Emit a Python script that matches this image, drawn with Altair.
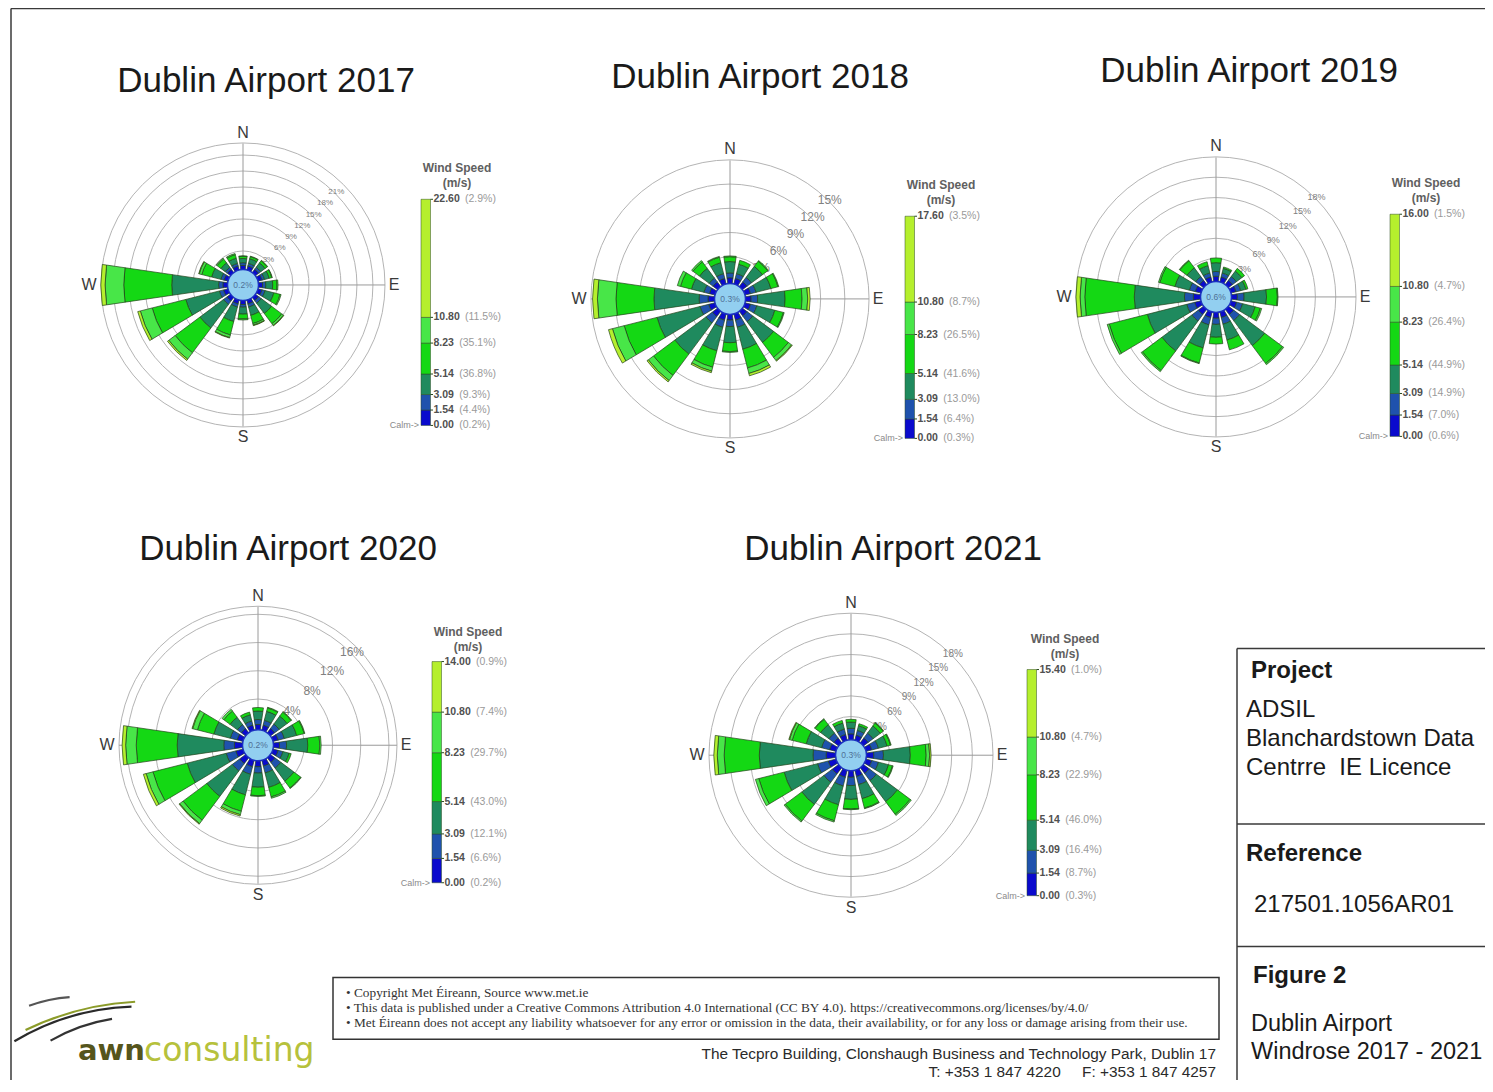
import math
import altair as alt
import pandas as pd

# ----------------------------------------------------------------- data
DIRECTIONS = ["N", "NNE", "NE", "ENE", "E", "ESE", "SE", "SSE",
              "S", "SSW", "SW", "WSW", "W", "WNW", "NW", "NNW"]
SPEED_BINS = ["0.00-1.54", "1.54-3.09", "3.09-5.14", "5.14-8.23", "8.23-10.80", ">10.80"]
BIN_COLORS = ["#0a0acd", "#1f52ad", "#1f8a5e", "#14d814", "#48e648", "#b5ef2d"]
YEARS = [2017, 2018, 2019, 2020, 2021]

# frequency (% of hours) per direction (rows, N first, clockwise) and speed bin (columns)
FREQ_2017 = [
    [0.3, 0.5, 0.8, 0.4, 0.1, 0.0], [0.3, 0.5, 0.9, 0.4, 0.1, 0.0],
    [0.3, 0.5, 1.0, 0.5, 0.1, 0.0], [0.3, 0.5, 0.9, 0.5, 0.1, 0.0],
    [0.3, 0.6, 1.3, 0.8, 0.2, 0.0], [0.3, 0.6, 1.7, 1.2, 0.2, 0.0],
    [0.3, 0.6, 2.4, 2.4, 0.4, 0.1], [0.3, 0.6, 1.6, 1.6, 0.3, 0.1],
    [0.3, 0.5, 1.3, 0.9, 0.2, 0.0], [0.3, 0.6, 2.8, 2.6, 0.5, 0.1],
    [0.4, 0.8, 5.5, 5.8, 1.5, 0.3], [0.4, 0.8, 6.5, 6.5, 2.3, 0.5],
    [0.4, 0.8, 8.8, 9.0, 3.5, 0.8], [0.3, 0.6, 1.8, 1.9, 0.5, 0.1],
    [0.3, 0.5, 1.0, 0.9, 0.2, 0.0], [0.3, 0.5, 1.0, 0.7, 0.2, 0.0],
]
FREQ_2018 = [
    [0.4, 0.6, 1.4, 0.6, 0.1, 0.0], [0.4, 0.6, 1.2, 0.5, 0.0, 0.0],
    [0.4, 0.7, 1.7, 0.8, 0.1, 0.0], [0.4, 0.7, 1.9, 0.9, 0.1, 0.0],
    [0.4, 0.8, 3.4, 2.1, 0.7, 0.3], [0.4, 0.8, 2.3, 1.1, 0.1, 0.0],
    [0.4, 0.9, 3.2, 2.3, 0.5, 0.1], [0.5, 0.9, 2.8, 2.4, 0.7, 0.3],
    [0.4, 0.8, 2.0, 1.1, 0.1, 0.0], [0.5, 0.9, 3.0, 2.1, 0.5, 0.2],
    [0.5, 1.0, 4.8, 3.3, 0.8, 0.2], [0.5, 1.1, 5.5, 4.2, 1.5, 0.5],
    [0.5, 1.1, 5.6, 4.7, 2.3, 0.6], [0.4, 0.7, 1.6, 1.4, 0.4, 0.0],
    [0.4, 0.6, 1.5, 1.0, 0.2, 0.0], [0.4, 0.6, 1.4, 0.7, 0.1, 0.0],
]
FREQ_2019 = [
    [0.4, 0.7, 1.3, 0.7, 0.0, 0.0], [0.4, 0.6, 0.7, 0.2, 0.0, 0.0],
    [0.4, 0.7, 1.0, 0.5, 0.0, 0.0], [0.4, 0.7, 0.8, 0.3, 0.0, 0.0],
    [0.5, 1.0, 3.3, 1.6, 0.1, 0.0], [0.5, 0.9, 1.9, 0.8, 0.2, 0.0],
    [0.6, 1.1, 4.6, 3.3, 0.2, 0.0], [0.5, 1.0, 2.4, 1.5, 0.0, 0.0],
    [0.5, 0.9, 1.9, 1.0, 0.0, 0.0], [0.5, 1.1, 3.5, 2.3, 0.1, 0.0],
    [0.6, 1.2, 5.5, 3.6, 0.2, 0.0], [0.6, 1.2, 6.0, 5.8, 0.3, 0.0],
    [0.7, 1.3, 7.4, 7.3, 0.7, 0.6], [0.5, 0.9, 2.2, 2.3, 0.2, 0.0],
    [0.4, 0.7, 1.6, 1.3, 0.1, 0.0], [0.4, 0.6, 1.1, 0.6, 0.0, 0.0],
]
FREQ_2020 = [
    [0.4, 0.7, 1.2, 0.5, 0.0, 0.0], [0.4, 0.7, 1.3, 0.5, 0.1, 0.0],
    [0.4, 0.8, 1.4, 0.7, 0.1, 0.0], [0.4, 0.9, 1.8, 1.1, 0.1, 0.0],
    [0.5, 1.0, 3.0, 1.7, 0.2, 0.0], [0.4, 0.7, 0.9, 0.3, 0.0, 0.0],
    [0.5, 1.0, 2.3, 1.2, 0.1, 0.0], [0.5, 1.0, 2.1, 1.4, 0.2, 0.0],
    [0.5, 0.9, 2.0, 1.2, 0.1, 0.0], [0.6, 1.1, 3.0, 2.4, 0.5, 0.2],
    [0.7, 1.3, 4.5, 4.2, 0.6, 0.1], [0.7, 1.4, 5.7, 5.0, 1.0, 0.4],
    [0.8, 1.5, 6.6, 5.8, 1.5, 0.5], [0.5, 1.0, 2.4, 2.4, 0.7, 0.1],
    [0.4, 0.7, 1.3, 1.1, 0.3, 0.0], [0.4, 0.6, 0.9, 0.4, 0.0, 0.0],
]
FREQ_2021 = [
    [0.5, 0.8, 0.9, 0.4, 0.0, 0.0], [0.4, 0.7, 0.7, 0.3, 0.0, 0.0],
    [0.5, 0.9, 1.3, 0.5, 0.1, 0.0], [0.5, 1.0, 1.3, 0.5, 0.1, 0.0],
    [0.7, 1.4, 3.9, 2.3, 0.5, 0.2], [0.5, 1.0, 1.5, 0.6, 0.1, 0.0],
    [0.7, 1.3, 3.8, 2.3, 0.2, 0.0], [0.6, 1.2, 2.1, 1.4, 0.1, 0.0],
    [0.6, 1.2, 2.0, 1.4, 0.1, 0.0], [0.7, 1.3, 2.8, 2.4, 0.2, 0.0],
    [0.8, 1.5, 4.0, 3.0, 0.2, 0.0], [0.8, 1.6, 5.0, 3.8, 0.5, 0.0],
    [1.0, 1.9, 7.8, 5.1, 1.0, 0.5], [0.6, 1.2, 2.3, 2.1, 0.4, 0.1],
    [0.5, 0.9, 1.5, 1.0, 0.1, 0.0], [0.5, 0.8, 0.9, 0.4, 0.0, 0.0],
]
FREQ = dict(zip(YEARS, [FREQ_2017, FREQ_2018, FREQ_2019, FREQ_2020, FREQ_2021]))

CALM_PCT = [0.2, 0.3, 0.6, 0.2, 0.3]
RING_STEP = [3, 3, 3, 4, 3]
RING_MAX = [21, 15, 18, 16, 18]

SPEED_EDGES = [0.00, 1.54, 3.09, 5.14, 8.23, 10.80]
SPEED_TOP = [22.60, 17.60, 16.00, 14.00, 15.40]
# legend percentages at 0.00 (calm), 1.54, 3.09, 5.14, 8.23, 10.80, top
LEGEND_PCT_2017 = [0.2, 4.4, 9.3, 36.8, 35.1, 11.5, 2.9]
LEGEND_PCT_2018 = [0.3, 6.4, 13.0, 41.6, 26.5, 8.7, 3.5]
LEGEND_PCT_2019 = [0.6, 7.0, 14.9, 44.9, 26.4, 4.7, 1.5]
LEGEND_PCT_2020 = [0.2, 6.6, 12.1, 43.0, 29.7, 7.4, 0.9]
LEGEND_PCT_2021 = [0.3, 8.7, 16.4, 46.0, 22.9, 4.7, 1.0]
LEGEND_PCT = dict(zip(YEARS, [LEGEND_PCT_2017, LEGEND_PCT_2018, LEGEND_PCT_2019,
                              LEGEND_PCT_2020, LEGEND_PCT_2021]))

COMPASS = ["N", "E", "S", "W"]
PANEL_HEADINGS = ["Project", "Reference", "Figure 2"]
PANEL_LINES = ["ADSIL", "Blanchardstown Data", "Centrre\u00a0\u00a0IE Licence",
               "217501.1056AR01", "Dublin Airport", "Windrose 2017 - 2021"]
NOTES = [
    "\u2022  Copyright Met \u00c9ireann, Source www.met.ie",
    "\u2022  This data is published under a Creative Commons Attribution 4.0 International (CC BY 4.0). https://creativecommons.org/licenses/by/4.0/",
    "\u2022  Met \u00c9ireann does not accept any liability whatsoever for any error or omission in the data, their availability, or for any loss or damage arising from their use.",
]
ADDRESS = ["The Tecpro Building, Clonshaugh Business and Technology Park, Dublin 17",
           "T: +353 1 847 4220\u00a0\u00a0\u00a0\u00a0\u00a0F: +353 1 847 4257"]

# ----------------------------------------------------------------- layout (page pixels)
W, H = 1477, 1072
XS = alt.Scale(domain=[8, 8 + W], range=[0, W], nice=False, zero=False)
YS = alt.Scale(domain=[8, 1084], range=[0, H], nice=False, zero=False)
TS = alt.Scale(domain=[0, 360], range=[0, 2 * math.pi], nice=False, zero=False)
R0 = 18.0
CALM_R = 15.5
HALF = 8.3
ROSE = {
    2017: dict(cx=243, cy=286, k=5.33, outer=142, extra=True, rf=8),
    2018: dict(cx=730, cy=300, k=8.07, outer=139, extra=False, rf=12),
    2019: dict(cx=1216, cy=298, k=6.78, outer=140, extra=False, rf=9),
    2020: dict(cx=258, cy=748, k=7.06, outer=139, extra=True, rf=12),
    2021: dict(cx=851, cy=758, k=6.89, outer=142, extra=False, rf=10),
}
TITLE_POS = {2017: (266, 81), 2018: (760, 77), 2019: (1249, 71), 2020: (288, 551), 2021: (893, 551)}
LEG = {
    2017: dict(x=421, top=200, bot=427, tx=457, ty=169),
    2018: dict(x=905, top=217, bot=440, tx=941, ty=186),
    2019: dict(x=1390, top=215, bot=438, tx=1426, ty=184),
    2020: dict(x=432, top=664, bot=886, tx=468, ty=634),
    2021: dict(x=1027, top=672, bot=899, tx=1065, ty=641),
}


def X(f="x"):
    return alt.X(f"{f}:Q", scale=XS, axis=None)


def Y(f="y"):
    return alt.Y(f"{f}:Q", scale=YS, axis=None)


def text_layer(df, **kw):
    enc = dict(x=X(), y=Y(), text=alt.Text("text:N"))
    if "fs" in df.columns:
        enc["size"] = alt.Size("fs:Q", scale=None, legend=None)
    return alt.Chart(df).mark_text(**kw).encode(**enc)


def rule_layer(df, **kw):
    return alt.Chart(df).mark_rule(**kw).encode(x=X("x"), y=Y("y"), x2=alt.X2("x2:Q"), y2=alt.Y2("y2:Q"))


# ----------------------------------------------------------------- tables
seg_rows, ring_rows, ringlab_rows, spoke_rows, calm_rows = [], [], [], [], []
title_rows, comp_rows = [], []
for yi, yr in enumerate(YEARS):
    L = ROSE[yr]
    for d, row in enumerate(FREQ[yr]):
        cum = 0.0
        for b, v in enumerate(row):
            lo, hi = cum, cum + v
            cum = hi
            if v > 0:
                seg_rows.append(dict(year=yr, d=d, dir=DIRECTIONS[d], bin=SPEED_BINS[b], lo=lo, hi=hi,
                                     cx=L["cx"], cy=L["cy"], k=L["k"]))
    p = RING_STEP[yi]
    while p <= RING_MAX[yi] + 1e-9:
        r = R0 + L["k"] * p
        ring_rows.append(dict(cx=L["cx"], cy=L["cy"], r=r, a0=0, a1=360))
        ringlab_rows.append(dict(x=L["cx"] + (r + 2) * math.sin(math.radians(45)),
                                 y=L["cy"] - (r + 2) * math.cos(math.radians(45)),
                                 text=f"{p}%", fs=L["rf"]))
        p += RING_STEP[yi]
    if L["extra"]:
        ring_rows.append(dict(cx=L["cx"], cy=L["cy"], r=L["outer"], a0=0, a1=360))
    o = L["outer"]
    spoke_rows.append(dict(x=L["cx"], y=L["cy"] - o, x2=L["cx"], y2=L["cy"] + o))
    spoke_rows.append(dict(x=L["cx"] - o, y=L["cy"], x2=L["cx"] + o, y2=L["cy"]))
    calm_rows.append(dict(cx=L["cx"], cy=L["cy"], r=CALM_R, a0=0, a1=360,
                          x=L["cx"], y=L["cy"], text=f"{CALM_PCT[yi]}%"))
    tx, ty = TITLE_POS[yr]
    title_rows.append(dict(x=tx, y=ty, text=f"Dublin Airport {yr}"))
    offs = {"N": (0, -(o + 11)), "E": (o + 9, 0), "S": (0, o + 11), "W": (-(o + 12), 0)}
    for c in COMPASS:
        comp_rows.append(dict(x=L["cx"] + offs[c][0], y=L["cy"] + offs[c][1], text=c))

seg_df = pd.DataFrame(seg_rows)
ring_df = pd.DataFrame(ring_rows)
ringlab_df = pd.DataFrame(ringlab_rows)
spoke_df = pd.DataFrame(spoke_rows)
calm_df = pd.DataFrame(calm_rows)
title_df = pd.DataFrame(title_rows)
comp_df = pd.DataFrame(comp_rows)

# legend tables
legbar_rows, legnum_rows, legpct_rows, legtick_rows, legtitle_rows, calmlab_rows = [], [], [], [], [], []
for yi, yr in enumerate(YEARS):
    G = LEG[yr]
    edges = SPEED_EDGES + [SPEED_TOP[yi]]
    for b in range(len(SPEED_BINS)):
        legbar_rows.append(dict(bin=SPEED_BINS[b], lo=edges[b], hi=edges[b + 1], smax=SPEED_TOP[yi],
                                x=G["x"], x2=G["x"] + 9.5, top=G["top"], bot=G["bot"]))
    for j, s in enumerate(edges):
        num = f"{s:.2f}"
        legnum_rows.append(dict(s=s, smax=SPEED_TOP[yi], top=G["top"], bot=G["bot"],
                                x=G["x"] + 12.5, text=num))
        legpct_rows.append(dict(s=s, smax=SPEED_TOP[yi], top=G["top"], bot=G["bot"],
                                x=G["x"] + 12.5 + len(num) * 5.8 + 2.5, text=f"({LEGEND_PCT[yr][j]}%)"))
        legtick_rows.append(dict(s=s, smax=SPEED_TOP[yi], top=G["top"], bot=G["bot"],
                                 x=G["x"] + 9.5, x2=G["x"] + 12))
    legtitle_rows.append(dict(x=G["tx"], y=G["ty"], text="Wind Speed"))
    legtitle_rows.append(dict(x=G["tx"], y=G["ty"] + 15, text="(m/s)"))
    calmlab_rows.append(dict(x=G["x"] - 2, y=G["bot"], text="Calm->"))

legbar_df = pd.DataFrame(legbar_rows)
legnum_df = pd.DataFrame(legnum_rows)
legpct_df = pd.DataFrame(legpct_rows)
legtick_df = pd.DataFrame(legtick_rows)
legtitle_df = pd.DataFrame(legtitle_rows)
calmlab_df = pd.DataFrame(calmlab_rows)

color_enc = alt.Color("bin:N", scale=alt.Scale(domain=SPEED_BINS, range=BIN_COLORS), legend=None)

# ----------------------------------------------------------------- layers
layers = []

# rings
layers.append(alt.Chart(ring_df).mark_arc(fillOpacity=0, stroke="#b4b4b4", strokeWidth=1).encode(
    x=X("cx"), y=Y("cy"),
    theta=alt.Theta("a0:Q", scale=TS, stack=False), theta2=alt.Theta2("a1:Q"),
    radius=alt.Radius("r:Q", scale=None, stack=False),
))
# spokes
layers.append(rule_layer(spoke_df, color="#9a9a9a", strokeWidth=1))
# ring labels
layers.append(text_layer(ringlab_df, font="Liberation Sans", color="#808080", align="center", baseline="middle"))
# wedges
layers.append(alt.Chart(seg_df).mark_arc(stroke="#22441a", strokeWidth=0.7).transform_calculate(
    t1=f"datum.d * 22.5 - {HALF}",
    t2=f"datum.d * 22.5 + {HALF}",
    rin=f"datum.lo == 0 ? {CALM_R} : {R0} + datum.k * datum.lo",
    rout=f"{R0} + datum.k * datum.hi",
).encode(
    x=X("cx"), y=Y("cy"),
    theta=alt.Theta("t1:Q", scale=TS, stack=False), theta2=alt.Theta2("t2:Q"),
    radius=alt.Radius("rout:Q", scale=None, stack=False), radius2=alt.Radius2("rin:Q"),
    color=color_enc,
))
# calm circles
layers.append(alt.Chart(calm_df).mark_arc(fill="#92cff0", stroke="#1a2fc0", strokeWidth=1.5).encode(
    x=X("cx"), y=Y("cy"),
    theta=alt.Theta("a0:Q", scale=TS, stack=False), theta2=alt.Theta2("a1:Q"),
    radius=alt.Radius("r:Q", scale=None, stack=False),
))
layers.append(text_layer(calm_df, font="Liberation Sans", fontSize=8.5, color="#4f6f95",
                         align="center", baseline="middle"))
# titles and compass letters
layers.append(text_layer(title_df, font="Liberation Sans", fontSize=35, color="#1a1a1a",
                         align="center", baseline="middle"))
layers.append(text_layer(comp_df, font="Liberation Sans", fontSize=16, color="#3a3a3a",
                         align="center", baseline="middle"))

# legends
leg_calc = dict(y="datum.bot - datum.s / datum.smax * (datum.bot - datum.top)")
layers.append(alt.Chart(legbar_df).mark_rect(stroke="#2a4a20", strokeWidth=0.5).transform_calculate(
    y="datum.bot - datum.lo / datum.smax * (datum.bot - datum.top)",
    y2="datum.bot - datum.hi / datum.smax * (datum.bot - datum.top)",
).encode(x=X("x"), x2=alt.X2("x2:Q"), y=Y("y"), y2=alt.Y2("y2:Q"), color=color_enc))
layers.append(alt.Chart(legtick_df).mark_rule(color="#2a4a20", strokeWidth=1).transform_calculate(
    **leg_calc).encode(x=X("x"), x2=alt.X2("x2:Q"), y=Y("y")))
layers.append(alt.Chart(legnum_df).mark_text(font="Liberation Sans", fontSize=10.5, fontWeight="bold",
                                              color="#505050", align="left", baseline="middle")
              .transform_calculate(**leg_calc).encode(x=X("x"), y=Y("y"), text="text:N"))
layers.append(alt.Chart(legpct_df).mark_text(font="Liberation Sans", fontSize=10.5,
                                              color="#9a9a9a", align="left", baseline="middle")
              .transform_calculate(**leg_calc).encode(x=X("x"), y=Y("y"), text="text:N"))
layers.append(text_layer(legtitle_df, font="Liberation Sans", fontSize=12, fontWeight="bold",
                         color="#606060", align="center", baseline="middle"))
layers.append(text_layer(calmlab_df, font="Liberation Sans", fontSize=9, color="#8a8a8a",
                         align="right", baseline="middle"))

# frame, info panel, notes box
frame_df = pd.DataFrame([
    dict(x=11, y=8.5, x2=1493, y2=8.5),
    dict(x=11, y=8.5, x2=11, y2=1092),
    dict(x=1237, y=651, x2=1493, y2=651),
    dict(x=1237, y=827, x2=1493, y2=827),
    dict(x=1237, y=950, x2=1493, y2=950),
    dict(x=1237, y=651, x2=1237, y2=1092),
])
layers.append(rule_layer(frame_df, color="#3a3a3a", strokeWidth=1.5))
box_df = pd.DataFrame([dict(x=333, y=981, x2=1219, y2=1043)])
layers.append(alt.Chart(box_df).mark_rect(fillOpacity=0, stroke="#333333", strokeWidth=1.5).encode(
    x=X("x"), y=Y("y"), x2=alt.X2("x2:Q"), y2=alt.Y2("y2:Q")))

head_df = pd.DataFrame(dict(x=[1251, 1246, 1253], y=[673, 857, 980], text=PANEL_HEADINGS))
layers.append(text_layer(head_df, font="Liberation Sans", fontSize=24, fontWeight="bold",
                         color="#1a1a1a", align="left", baseline="middle"))
lines_df = pd.DataFrame(dict(x=[1246, 1246, 1246, 1254, 1251, 1251],
                             y=[713, 742, 771, 908, 1028, 1056], text=PANEL_LINES,
                             fs=[24, 24, 24, 24, 23.5, 23.5]))
layers.append(text_layer(lines_df, font="Liberation Sans",
                         color="#1a1a1a", align="left", baseline="middle"))
notes_df = pd.DataFrame(dict(x=[346, 346, 346], y=[997, 1012, 1027], text=NOTES))
layers.append(text_layer(notes_df, font="Liberation Serif", fontSize=13.3, color="#333333",
                         align="left", baseline="middle"))
addr_df = pd.DataFrame(dict(x=[1216, 1216], y=[1058, 1076], text=ADDRESS))
layers.append(text_layer(addr_df, font="Liberation Sans", fontSize=15.4, color="#2a2a2a",
                         align="right", baseline="middle"))

# logo
logo_arcs = pd.DataFrame([
    dict(cx=140, cy=1255, r=245, a0=-31, a1=-2, col="#2a2a2a"),
    dict(cx=150, cy=1290, r=285, a0=-26, a1=-3, col="#8c9c2a"),
    dict(cx=140, cy=1200, r=180, a0=-30, a1=-9, col="#333333"),
    dict(cx=80, cy=1150, r=150, a0=-20, a1=-4, col="#555555"),
])
layers.append(alt.Chart(logo_arcs).mark_arc().transform_calculate(
    r2="datum.r - 2.2").encode(
    x=X("cx"), y=Y("cy"),
    theta=alt.Theta("a0:Q", scale=TS, stack=False), theta2=alt.Theta2("a1:Q"),
    radius=alt.Radius("r:Q", scale=None, stack=False), radius2=alt.Radius2("r2:Q"),
    fill=alt.Fill("col:N", scale=None),
))
logo1 = pd.DataFrame([dict(x=78, y=1055, text="awn")])
logo2 = pd.DataFrame([dict(x=144, y=1055, text="consulting")])
layers.append(text_layer(logo1, font="DejaVu Sans", fontSize=29, fontWeight="bold",
                         color="#55551c", align="left", baseline="middle"))
layers.append(text_layer(logo2, font="DejaVu Sans", fontSize=33, color="#b6c13c",
                         align="left", baseline="middle"))

chart = alt.layer(*layers).properties(
    width=W, height=H,
    autosize=alt.AutoSizeParams(type="none"),
    padding=0,
    background="white",
).configure_view(strokeWidth=0)

chart.save("out.html", embed_options={"renderer": "svg", "actions": False})
